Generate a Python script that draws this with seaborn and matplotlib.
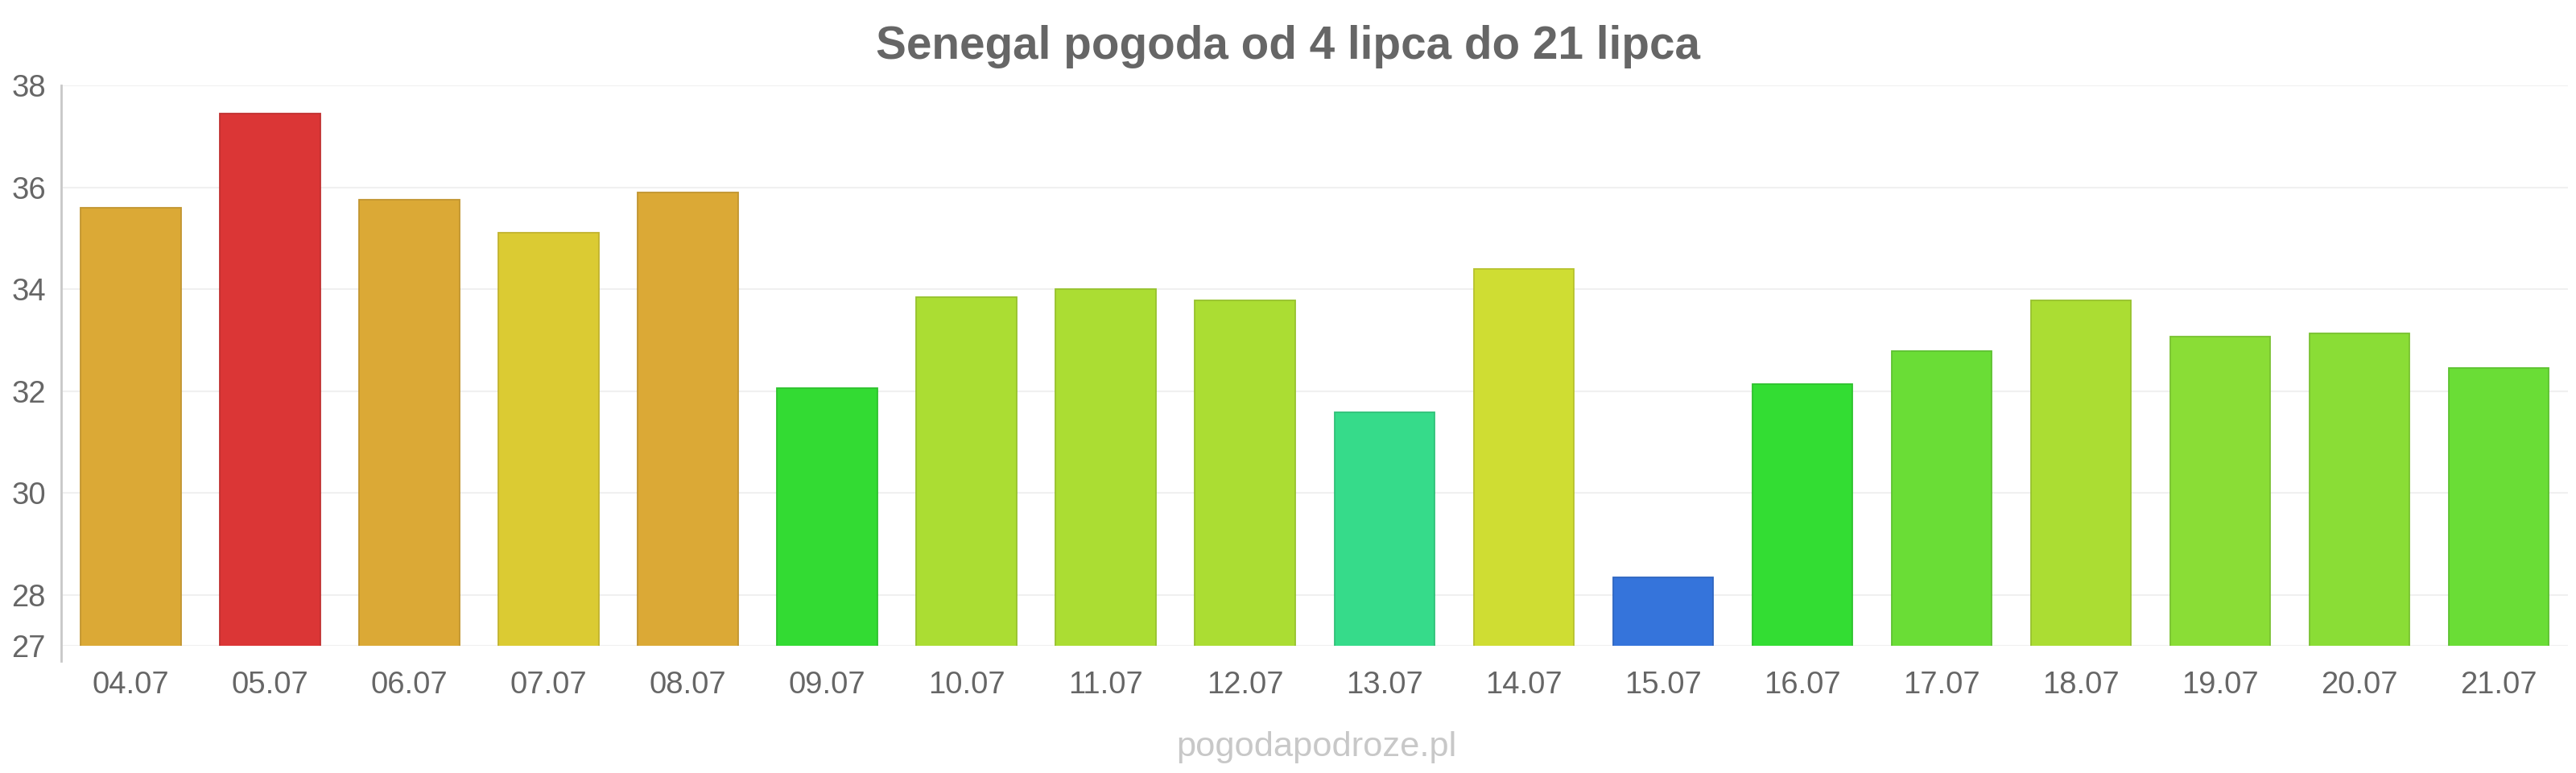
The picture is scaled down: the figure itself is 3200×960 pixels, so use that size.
import matplotlib
matplotlib.use("Agg")
import matplotlib.pyplot as plt
import matplotlib.colors as mcolors
import seaborn as sns
import pandas as pd

# data
days = ["04.07", "05.07", "06.07", "07.07", "08.07", "09.07", "10.07", "11.07", "12.07",
        "13.07", "14.07", "15.07", "16.07", "17.07", "18.07", "19.07", "20.07", "21.07"]
temps = [35.6, 37.45, 35.75, 35.1, 35.9, 32.06, 33.84, 34.0, 33.78,
         31.58, 34.39, 28.35, 32.13, 32.78, 33.78, 33.07, 33.13, 32.46]
colors = ["#DBA936", "#DB3636", "#DBA936", "#DBCB33", "#DBA936", "#33DB33", "#ABDD33", "#ABDD33", "#ABDD33",
          "#36DB8A", "#CFDD33", "#3574DB", "#33DD33", "#6ADD36", "#ABDD33", "#8ADD36", "#8ADD36", "#6ADD36"]
y_ticks = [27, 28, 30, 32, 34, 36, 38]

title = "Senegal pogoda od 4 lipca do 21 lipca"
footer = "pogodapodroze.pl"

df = pd.DataFrame({"day": days, "temp": temps})

sns.set_style("white")
plt.rcParams['font.family'] = ['Liberation Sans', 'DejaVu Sans']

fig = plt.figure(figsize=(32, 9.6), dpi=100)
ax = fig.add_axes([0.0238, 0.1646, 0.9732, 0.725])

sns.barplot(data=df, x="day", y="temp", hue="day", palette=colors, legend=False,
            width=0.72, saturation=1, ax=ax)

# slightly darker outline per bar
for patch, c in zip(ax.patches, colors):
    r, g, b = mcolors.to_rgb(c)
    patch.set_edgecolor((r * 0.88, g * 0.88, b * 0.88))
    patch.set_linewidth(1.3)

ax.set_ylim(27, 38)
ax.set_xlim(-0.5, len(days) - 0.5)
ax.set_yticks(y_ticks)
ax.yaxis.grid(True, color="#f0f0f0", linewidth=1.5)
ax.set_axisbelow(True)

for s in ["top", "right", "bottom"]:
    ax.spines[s].set_visible(False)
ax.spines["left"].set_color("#c8c8c8")
ax.spines["left"].set_linewidth(2)
ax.spines["left"].set_bounds(26.7, 38)

ax.tick_params(axis="both", length=0, labelsize=27.5, labelcolor="#666666")
ax.tick_params(axis="x", pad=22)
ax.tick_params(axis="y", pad=14)
ax.set_xlabel("")
ax.set_ylabel("")

fig.text(0.5, 0.94, title, ha="center", va="center", fontsize=40.8,
         fontweight="bold", color="#666666")
fig.text(0.511, 0.033, footer, ha="center", va="center", fontsize=31.3, color="#c8c8c8")

fig.savefig("out.png", dpi=100, facecolor="white")
